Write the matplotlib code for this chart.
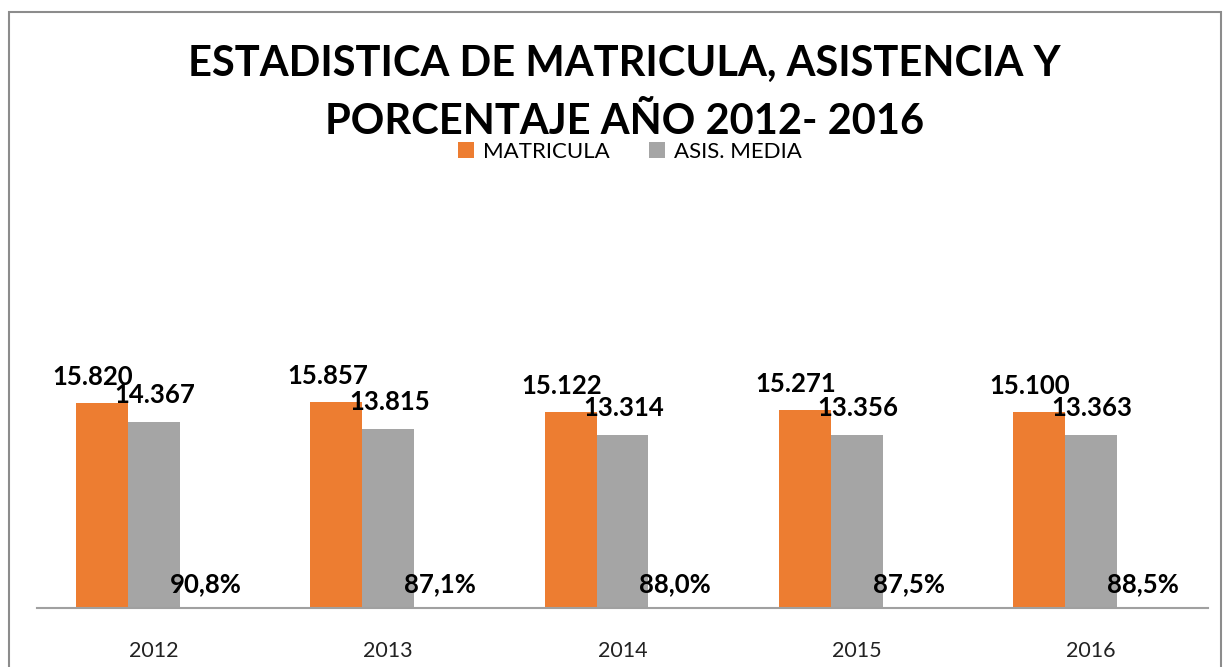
# estadistica de matricula, asistencia y porcentaje 2012-2016
import numpy as np
import matplotlib.pyplot as plt
from matplotlib.patches import Rectangle

# data
years = ['2012', '2013', '2014', '2015', '2016']
matricula = [15820, 15857, 15122, 15271, 15100]
asistencia = [14367, 13815, 13314, 13356, 13363]
porcentaje = [90.8, 87.1, 88.0, 87.5, 88.5]

c_mat = '#ed7d31'
c_asis = '#a5a5a5'
c_pct = '#8fa6bf'

plt.rcParams['font.family'] = ['Lato', 'DejaVu Sans']

fig = plt.figure(figsize=(12.25, 6.67), dpi=100)
W, H = 1225, 667

# outer chart frame
fig.patches.append(Rectangle((9 / W, -0.1), (1221 - 9) / W, 1.1 - 12 / H,
                             transform=fig.transFigure, fill=False,
                             edgecolor='#8c8c8c', linewidth=1.5))

ax = fig.add_axes([37 / W, 59 / H, 1171 / W, 453.6 / H])
x = np.arange(len(years))
w = 0.222

b1 = ax.bar(x - w, matricula, w, color=c_mat, label='MATRICULA')
b2 = ax.bar(x, asistencia, w, color=c_asis, label='ASIS. MEDIA')
b3 = ax.bar(x + w, porcentaje, w, color=c_pct)

ax.set_xlim(-0.5, 4.5)
ax.set_ylim(0, 35000)
for s in ['top', 'right', 'left']:
    ax.spines[s].set_visible(False)
ax.spines['bottom'].set_color('#a0a0a0')
ax.spines['bottom'].set_linewidth(1.5)
ax.set_yticks([])
ax.set_xticks(x)
ax.set_xticklabels(years, fontsize=15.5, color='#222222')
ax.tick_params(axis='x', length=0, pad=24)

# data labels
for xi, v in zip(x, matricula):
    ax.annotate(f'{v:,}'.replace(',', '.'), (xi - w, v), xytext=(-9, 18),
                textcoords='offset pixels', ha='center', va='baseline',
                fontsize=18.5, fontweight='bold')
for xi, v in zip(x, asistencia):
    ax.annotate(f'{v:,}'.replace(',', '.'), (xi, v), xytext=(1, 19),
                textcoords='offset pixels', ha='center', va='baseline',
                fontsize=18.5, fontweight='bold')
for xi, p in zip(x, porcentaje):
    ax.annotate(f'{p:.1f}%'.replace('.', ','), (xi + w, 0), xytext=(0, 16),
                textcoords='offset pixels', ha='center', va='baseline',
                fontsize=18.5, fontweight='bold')

fig.text(624 / W, 1 - 64 / H, 'ESTADISTICA DE MATRICULA, ASISTENCIA Y',
         ha='center', va='center', fontsize=30, fontweight='bold')
fig.text(625 / W, 1 - 122 / H, 'PORCENTAJE AÑO 2012- 2016',
         ha='center', va='center', fontsize=30, fontweight='bold')

fig.legend(handles=[b1, b2], loc='center', bbox_to_anchor=(630 / W, 1 - 152 / H),
           ncol=2, frameon=False, fontsize=16, handlelength=0.7, handleheight=0.7,
           columnspacing=1.8, handletextpad=0.4)

plt.savefig('out.png', dpi=100)
